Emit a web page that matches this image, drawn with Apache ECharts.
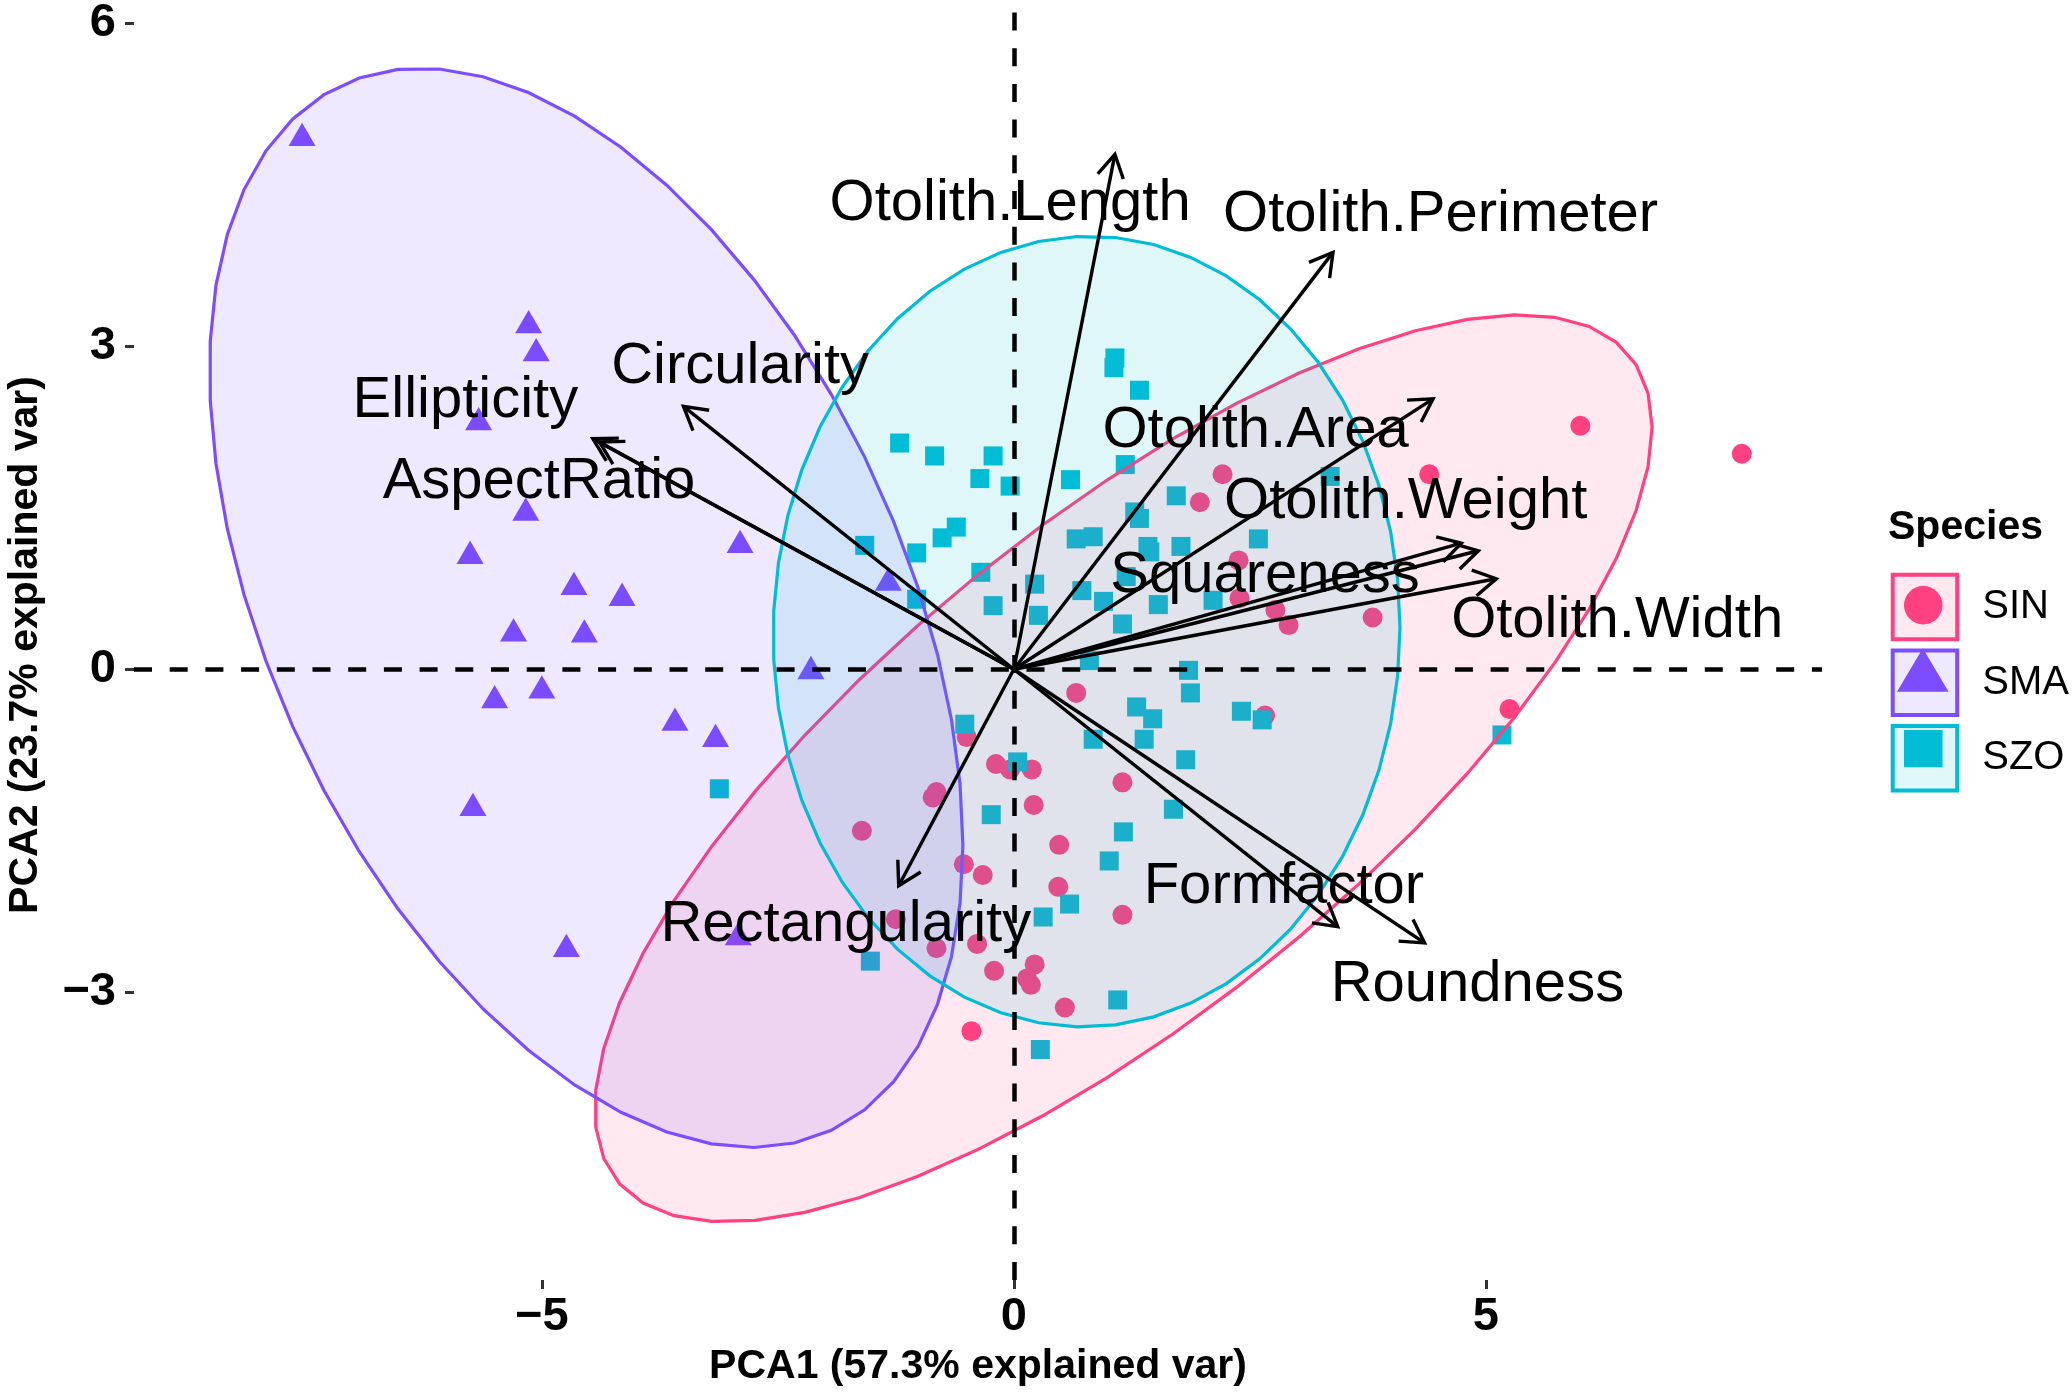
<!DOCTYPE html>
<html><head><meta charset="utf-8">
<script src="https://cdn.jsdelivr.net/npm/echarts@6/dist/echarts.min.js"></script>
<style>html,body{margin:0;padding:0;background:#fff}#c{width:2072px;height:1400px}</style>
</head><body><div id="c"></div>
<script>
// ---------- data ----------
const species = ['SIN', 'SMA', 'SZO'];
const speciesColors = ['#FF4081', '#7C4DFF', '#00BCD4'];
const speciesFills = ['rgba(255,64,129,0.12)', 'rgba(124,77,255,0.12)', 'rgba(0,188,212,0.12)'];

const sinPts = [[6.00,2.26],[7.71,2.00],[4.40,1.81],[2.21,1.81],[1.97,1.55],[2.38,1.01],[2.39,0.66],[2.77,0.55],[2.91,0.41],[3.80,0.48],
  [0.66,-0.22],[2.66,-0.43],[5.25,-0.37],[-0.50,-0.63],[-0.19,-0.88],[-0.04,-0.93],[0.19,-0.93],[1.15,-1.05],[0.21,-1.26],[-0.82,-1.14],
  [-0.86,-1.19],[-1.61,-1.50],[0.48,-1.63],[-0.53,-1.81],[-0.33,-1.91],[0.47,-2.02],[1.15,-2.28],[-1.25,-2.32],[-0.82,-2.59],[-0.39,-2.55],
  [-0.21,-2.80],[0.22,-2.74],[0.14,-2.87],[0.18,-2.93],[0.54,-3.14],[-0.45,-3.36]];

const smaPts = [[-7.54,4.93],[-5.14,3.19],[-5.06,2.93],[-5.67,2.29],[-5.17,1.45],[-5.76,1.05],[-2.90,1.15],[-4.66,0.76],[-4.15,0.66],[-5.30,0.33],
  [-4.55,0.32],[-5.50,-0.29],[-5.00,-0.20],[-3.59,-0.50],[-3.16,-0.65],[-5.73,-1.29],[-4.74,-2.60],[-2.92,-2.49],[-1.33,0.80],[-2.15,-0.02]];

const szoPts = [[1.07,2.89],[1.06,2.80],[1.33,2.59],[-1.21,2.10],[-0.84,1.98],[-0.22,1.98],[-0.36,1.77],[-0.04,1.70],[0.60,1.76],[1.18,1.90],
  [1.72,1.61],[1.28,1.46],[1.33,1.40],[-0.61,1.32],[-0.76,1.22],[-1.58,1.15],[-1.03,1.08],[0.66,1.21],[0.84,1.23],[1.42,1.14],
  [1.44,1.09],[1.77,1.14],[2.59,1.21],[-0.35,0.90],[0.22,0.79],[0.72,0.73],[1.19,0.86],[-1.03,0.65],[-0.22,0.59],[0.26,0.50],
  [0.95,0.63],[1.53,0.60],[2.11,0.64],[1.15,0.42],[0.80,0.08],[1.85,-0.01],[1.87,-0.22],[1.30,-0.35],[1.47,-0.46],[2.41,-0.39],
  [2.63,-0.47],[0.84,-0.65],[1.38,-0.65],[-0.52,-0.51],[0.04,-0.86],[1.82,-0.84],[1.69,-1.30],[-0.24,-1.35],[1.16,-1.51],[3.35,1.79],
  [5.17,-0.61],[1.01,-1.78],[0.59,-2.18],[0.31,-2.30],[-1.52,-2.71],[1.10,-3.07],[0.28,-3.53],[-3.12,-1.11]];

// ellipse parameters per species: centre, half-extent in x and y, correlation
const ellCx = [1.16, -4.53, 0.77];
const ellCy = [-0.92, 0.57, 0.35];
const ellRx = [5.60, 3.99, 3.32];
const ellRy = [4.21, 5.01, 3.67];
const ellRho = [0.752, -0.44, 0.01];

// loading arrows
const varNames = ['Otolith.Length','Otolith.Perimeter','Otolith.Area','Otolith.Weight','Squareness','Otolith.Width',
  'Roundness','Formfactor','Rectangularity','Circularity','Ellipticity','AspectRatio'];
const varX = [1.07, 3.38, 4.44, 4.92, 4.74, 5.11, 4.35, 3.43, -1.22, -3.50, -4.46, -4.39];
const varY = [4.78, 3.87, 2.51, 1.10, 1.17, 0.84, -2.54, -2.39, -2.01, 2.44, 2.14, 2.11];
const labelX = [-0.04, 4.52, 2.56, 4.15, 2.66, 6.39, 4.91, 2.86, -1.78, -2.90, -5.81, -5.03];
const labelY = [4.32, 4.22, 2.21, 1.55, 0.87, 0.45, -2.93, -2.02, -2.37, 2.81, 2.49, 1.74];

const xTicks = [-5, 0, 5];
const yTicks = [-3, 0, 3, 6];
const xTitle = 'PCA1 (57.3% explained var)';
const yTitle = 'PCA2 (23.7% explained var)';
const legendTitle = 'Species';

// ---------- chart ----------
const FONT = '"Liberation Sans", Arial, Helvetica, sans-serif';
const fmt = v => String(v).replace('-', '\u2212');
const chart = echarts.init(document.getElementById('c'), null, {renderer: 'canvas'});

function renderEllipse(params, api) {
  const cx = api.value(0), cy = api.value(1), rx = api.value(2), ry = api.value(3), rho = api.value(4), i = params.dataIndex;
  const s = Math.sqrt(1 - rho * rho);
  const pts = [];
  for (let k = 0; k <= 51; k++) {
    const t = k * 2 * Math.PI / 51;
    pts.push(api.coord([cx + rx * Math.cos(t), cy + ry * (rho * Math.cos(t) + s * Math.sin(t))]));
  }
  return {type: 'polygon', shape: {points: pts},
    style: {fill: speciesFills[i], stroke: speciesColors[i], lineWidth: 3.2}};
}

function renderArrow(params, api) {
  const p0 = api.coord([0, 0]);
  const p1 = api.coord([api.value(0), api.value(1)]);
  const ang = Math.atan2(p1[1] - p0[1], p1[0] - p0[0]);
  const L = 26, a = Math.PI / 6;
  const b1 = [p1[0] - L * Math.cos(ang - a), p1[1] - L * Math.sin(ang - a)];
  const b2 = [p1[0] - L * Math.cos(ang + a), p1[1] - L * Math.sin(ang + a)];
  return {type: 'group', children: [
    {type: 'line', shape: {x1: p0[0], y1: p0[1], x2: p1[0], y2: p1[1]}, style: {stroke: '#000', lineWidth: 3.4}},
    {type: 'polyline', shape: {points: [b1, p1, b2]}, style: {stroke: '#000', lineWidth: 3.4, fill: null}}
  ]};
}

function renderLabel(params, api) {
  const p = api.coord([api.value(0), api.value(1)]);
  return {type: 'text', x: p[0], y: p[1],
    style: {text: varNames[params.dataIndex], fill: '#000', fontSize: 58, fontFamily: FONT,
      align: 'center', verticalAlign: 'middle'}};
}

const option = {
  animation: false,
  backgroundColor: '#fff',
  textStyle: {fontFamily: FONT},
  grid: {left: 134, top: 10, width: 1688, height: 1270, containLabel: false, outerBoundsMode: 'none'},
  title: {text: legendTitle, left: 1888, top: 507, padding: 0,
    textStyle: {fontSize: 41, fontWeight: 'bold', color: '#000', fontFamily: FONT}},
  xAxis: {
    type: 'value', min: -9.32, max: 8.56,
    axisLine: {show: false, onZero: false},
    splitLine: {show: false},
    axisTick: {show: true, customValues: xTicks, length: 9, lineStyle: {color: '#333', width: 3}},
    axisLabel: {customValues: xTicks, formatter: fmt, fontSize: 47, fontWeight: 'bold', color: '#000', margin: 14, fontFamily: FONT},
    name: xTitle, nameLocation: 'middle', nameGap: 61,
    nameTextStyle: {fontSize: 41, fontWeight: 'bold', color: '#000', fontFamily: FONT}
  },
  yAxis: {
    type: 'value', min: -5.67, max: 6.12,
    axisLine: {show: false, onZero: false},
    splitLine: {show: false},
    axisTick: {show: true, customValues: yTicks, length: 9, lineStyle: {color: '#333', width: 3}},
    axisLabel: {customValues: yTicks, formatter: fmt, fontSize: 47, fontWeight: 'bold', color: '#000', margin: 18, fontFamily: FONT},
    name: yTitle, nameLocation: 'middle', nameGap: 88, nameRotate: 90,
    nameTextStyle: {fontSize: 41, fontWeight: 'bold', color: '#000', fontFamily: FONT}
  },
  legend: [
    {data: species.map((s, i) => ({name: s, icon: 'rect',
        itemStyle: {color: speciesFills[i], borderColor: speciesColors[i], borderWidth: 4}})),
      orient: 'vertical', left: 1890.7, top: 572.7, itemWidth: 64.5, itemHeight: 64.5, itemGap: 7.2,
      padding: 0, selectedMode: false,
      textStyle: {fontSize: 40, color: '#000', fontFamily: FONT, padding: [0, 0, 0, 20]}},
    {data: [{name: 'SIN', icon: 'circle', itemStyle: {color: speciesColors[0]}}],
      left: 1904, top: 586, itemWidth: 38.5, itemHeight: 38.5, padding: 0, selectedMode: false, formatter: () => ''},
    {data: [{name: 'SMA', icon: 'triangle', itemStyle: {color: speciesColors[1]}}],
      left: 1897, top: 648.3, itemWidth: 51.6, itemHeight: 43.4, padding: 0, selectedMode: false, formatter: () => ''},
    {data: [{name: 'SZO', icon: 'rect', itemStyle: {color: speciesColors[2]}}],
      left: 1904, top: 730, itemWidth: 38.5, itemHeight: 37.3, padding: 0, selectedMode: false, formatter: () => ''}
  ],
  series: [
    {name: 'SIN', type: 'scatter', data: sinPts, symbol: 'circle', symbolSize: 20, z: 2,
      itemStyle: {color: speciesColors[0], opacity: 1}, emphasis: {disabled: true}},
    {name: 'SMA', type: 'scatter', data: smaPts, symbol: 'triangle', symbolSize: [27, 23.3], symbolOffset: [0, -3.9], z: 2,
      itemStyle: {color: speciesColors[1], opacity: 1}, emphasis: {disabled: true}},
    {name: 'SZO', type: 'scatter', data: szoPts, symbol: 'rect', symbolSize: 19, z: 2,
      itemStyle: {color: speciesColors[2], opacity: 1}, emphasis: {disabled: true}},
    {name: 'ellipses', type: 'custom', renderItem: renderEllipse, z: 3, silent: true,
      encode: {x: 0, y: 1},
      data: species.map((s, i) => [ellCx[i], ellCy[i], ellRx[i], ellRy[i], ellRho[i]])},
    {name: 'loadings', type: 'custom', renderItem: renderArrow, z: 4, silent: true,
      encode: {x: 0, y: 1},
      data: varX.map((x, i) => [x, varY[i]])},
    {name: 'loadingLabels', type: 'custom', renderItem: renderLabel, z: 4, silent: true,
      encode: {x: 0, y: 1},
      data: labelX.map((x, i) => [x, labelY[i]]),
      markLine: {silent: true, symbol: ['none', 'none'], label: {show: false}, z: 6,
        lineStyle: {color: '#000', width: 4.5, type: [18, 17.7], cap: 'butt'},
        emphasis: {disabled: true},
        data: [{xAxis: 0}, {yAxis: 0}]}}
  ]
};
chart.setOption(option);
</script>
</body></html>
